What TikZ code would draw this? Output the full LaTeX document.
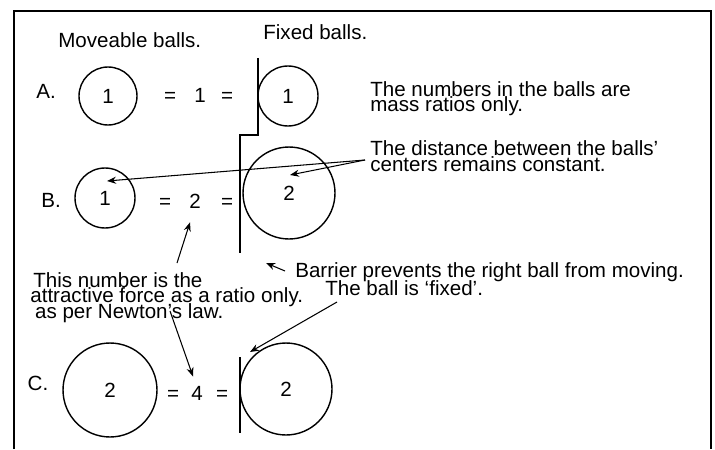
\documentclass[tikz,border=0pt]{standalone}
\usepackage{fontspec}
\setmainfont{Liberation Sans}
\usetikzlibrary{arrows.meta,positioning,calc}
\newcommand{\notefont}{\fontsize{11.7}{8.8}\selectfont\lineskiplimit=-20pt}

\begin{document}
\begin{tikzpicture}[x=0.02cm, y=-0.02cm, every node/.style={font=\notefont, inner sep=0pt}, ball/.style={circle, draw, line width=0.8pt, inner sep=0pt}, note/.style={anchor=base west, align=left}, rowtext/.style={anchor=base}, pointer/.style={-{Stealth[length=1.8mm, width=1.4mm]}, line width=0.6pt}, barrier/.style={line width=1.1pt}]
\useasboundingbox (0,0) rectangle (715,449);
\draw[line width=1.4pt] (14,449) -- (14,11) -- (711,11) -- (711,449);
\node[note] (moveable) at (58,48) {Moveable balls.};
\node[note] (fixed) at (263,40) {Fixed balls.};
\node[rowtext] (la) at (46,99) {A.};
\node[ball, minimum size=1.16cm] (a1) at (108,96) {1};
\node[rowtext] (eqa1) at (170,103) {=};
\node[rowtext] (fa) at (200,103) {1};
\node[rowtext] (eqa2) at (227,103) {=};
\node[ball, minimum size=1.2cm] (a2) at (288,96) {1};
\node[rowtext] (lb) at (51,207) {B.};
\node[ball, minimum size=1.2cm] (b1) at (105,198) {1};
\node[rowtext] (eqb1) at (165,208) {=};
\node[rowtext] (fb) at (195,208) {2};
\node[rowtext] (eqb2) at (227,208) {=};
\node[ball, minimum size=1.84cm] (b2) at (289,193) {2};
\node[rowtext] (lc) at (38,390) {C.};
\node[ball, minimum size=1.88cm] (c1) at (110,390) {2};
\node[rowtext] (eqc1) at (173,400) {=};
\node[rowtext] (fc) at (197,400) {4};
\node[rowtext] (eqc2) at (222,400) {=};
\node[ball, minimum size=1.84cm] (c2) at (286,389) {2};
\draw[barrier] (258,58) -- (258,135) -- (240,135) -- (240,253);
\draw[barrier] (240,357) -- (240,433);
\node[note] (masses) at (370,112) {The numbers in the balls are\\mass ratios only.};
\node[note] (dist) at (370,171) {The distance between the balls'\\centers remains constant.};
\node[note] (thisnum) at (33,318) {This number is the\\\hspace*{-1.7pt}attractive force as a ratio only.\\\hspace*{1pt}as per Newton's law.};
\node[note] (barriertxt) at (295,277) {Barrier prevents the right ball from moving.};
\node[note] (fixedtxt) at (325,295) {The ball is `fixed'.};
\draw[pointer] ($(dist.base west)+(-5,-11)$) -- ($(b1.center)+(2,-17)$);
\draw[pointer] ($(dist.base west)+(-5,-11)$) -- ($(b2.center)+(1,-18)$);
\draw[pointer] ($(thisnum.base west)+(144,-55)$) -- ($(fb.south)+(-5,14)$);
\draw[pointer] ($(thisnum.base west)+(137,-7)$) -- ($(fc.north)+(-4,-9)$);
\draw[pointer] ($(barriertxt.base west)+(-10,-6)$) -- ($(barriertxt.base west)+(-29,-14)$);
\draw[pointer] ($(fixedtxt.base west)+(12,7)$) -- ($(c2.center)+(-36,-37)$);
\end{tikzpicture}
\end{document}
